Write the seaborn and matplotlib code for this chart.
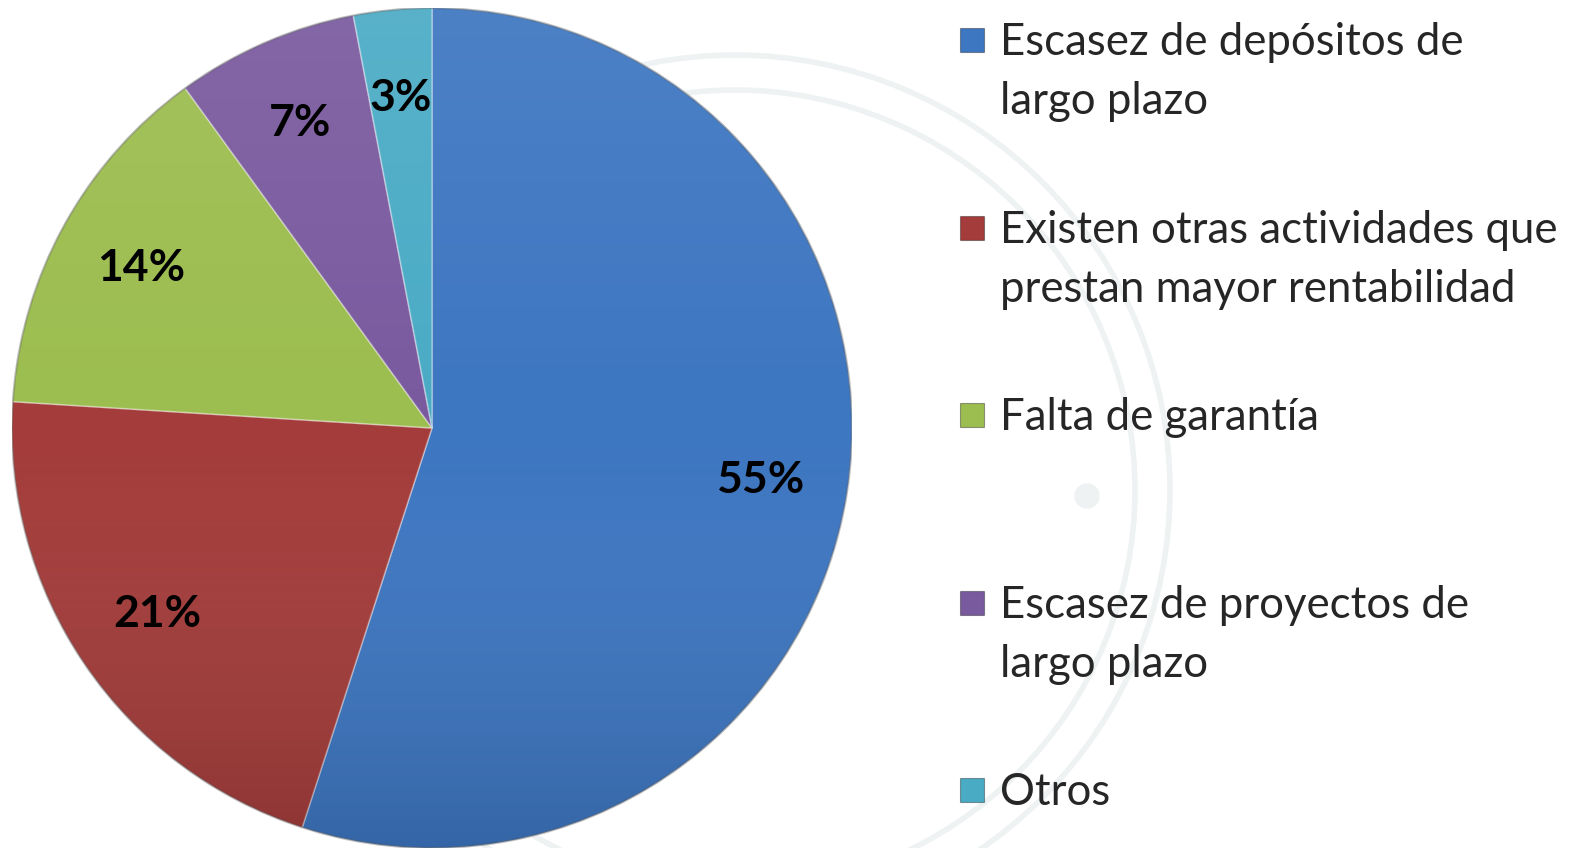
import matplotlib.pyplot as plt
import numpy as np
import seaborn as sns
from matplotlib.colors import LinearSegmentedColormap
from matplotlib.legend_handler import HandlerPatch
from matplotlib.patches import Circle, Rectangle

causas = [
    "Escasez de depósitos de\nlargo plazo",
    "Existen otras actividades que\nprestan mayor rentabilidad",
    "Falta de garantía",
    "Escasez de proyectos de\nlargo plazo",
    "Otros",
]
porcentajes = [55, 21, 14, 7, 3]
colores = ["#3d76c1", "#a33c3a", "#9cbd4f", "#7a5a9f", "#4aabc5"]

W, H = 1577, 848


class MarcaArriba(HandlerPatch):
    # cuadradito alineado con la primera linea del texto
    def __init__(self, subir=0.76, **kw):
        super().__init__(**kw)
        self.subir = subir

    def create_artists(self, legend, orig_handle, xdescent, ydescent, width, height, fontsize, trans):
        lado = 0.55 * fontsize
        y0 = -ydescent + height / 2 - lado / 2 + self.subir * fontsize
        p = Rectangle((-xdescent + width - lado, y0), lado, lado,
                      facecolor=orig_handle.get_facecolor(), edgecolor=(0, 0, 0, 0.35),
                      linewidth=0.8, transform=trans)
        return [p]


sns.set_theme(style="white")
plt.rcParams["font.family"] = ["Lato", "DejaVu Sans"]

fig = plt.figure(figsize=(W / 100, H / 100), dpi=100)
fig.patch.set_facecolor("white")

# sello de fondo (marca de agua)
fondo = fig.add_axes([0, 0, 1, 1], zorder=-1)
fondo.set_xlim(0, W)
fondo.set_ylim(H, 0)
fondo.axis("off")
for r in (435, 400):
    fondo.add_patch(Circle((735, 490), r, fill=False, edgecolor="#eef2f2", linewidth=4))
fondo.add_patch(Circle((1087, 496), 12, color="#eef2f2"))

ax = fig.add_axes([12 / W, 0, 840 / W, 840 / H])
wedges, textos, pcts = ax.pie(
    porcentajes, colors=colores, startangle=90, counterclock=False,
    autopct="%1.0f%%", pctdistance=0.79,
    wedgeprops=dict(linewidth=1.2, edgecolor=(1, 1, 1, 0.35)),
    textprops=dict(fontsize=32, fontweight="bold", color="black"),
)
for t in pcts:
    t.set_zorder(5)

# degradado tipo 3D
grad = np.linspace(0, 1, 256)[:, None]
sombra = LinearSegmentedColormap.from_list("sombra", [(1, 1, 1, 0.08), (1, 1, 1, 0.0), (0, 0, 0, 0.14)])
im = ax.imshow(grad, extent=(-1, 1, -1, 1), cmap=sombra, origin="upper", aspect="auto", zorder=2)
im.set_clip_path(Circle((0, 0), 1, transform=ax.transData))
ax.add_patch(Circle((0, 0), 1, fill=False, edgecolor=(0, 0, 0, 0.25), linewidth=1.5, zorder=3))
ax.set_xlim(-1, 1)
ax.set_ylim(-1, 1)
ax.axis("off")

# todas las entradas ocupan dos lineas salvo la ultima
etiquetas = [c if ("\n" in c or i == len(causas) - 1) else c + "\n " for i, c in enumerate(causas)]
manejadores = {w: MarcaArriba() for w in wedges[:-1]}
manejadores[wedges[-1]] = MarcaArriba(subir=0.0)
leg = fig.legend(
    wedges, etiquetas, loc="upper left", bbox_to_anchor=(960 / W, 1 - 22 / H),
    frameon=False, fontsize=31.5, handlelength=0.55, handleheight=0.7,
    handletextpad=0.36, labelspacing=1.99, borderpad=0, borderaxespad=0,
    handler_map=manejadores,
)
for t in leg.get_texts():
    t.set_linespacing(1.56)

fig.savefig("out.png", dpi=100, facecolor="white")
